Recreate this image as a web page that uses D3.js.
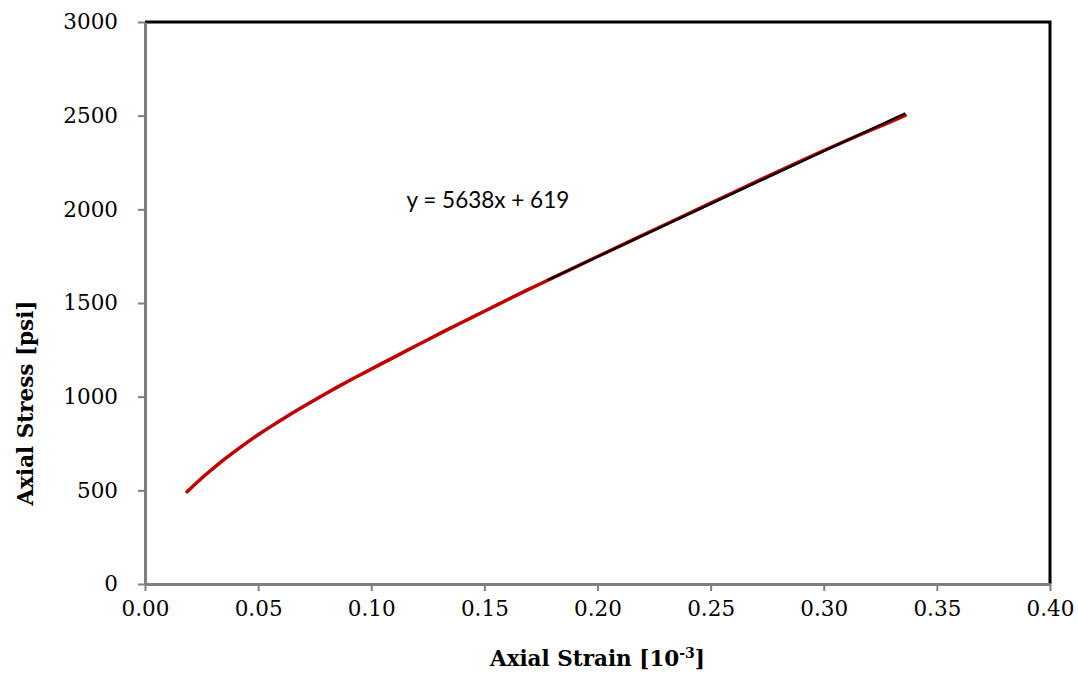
<!DOCTYPE html>
<html>
<head>
<meta charset="utf-8">
<script src="https://cdn.jsdelivr.net/npm/d3@7"></script>
<style>
  body { margin: 0; background: #fff; }
  .tick text { font-family: "DejaVu Serif", serif; font-size: 21.5px; fill: #000; }
  .axis-title { font-family: "DejaVu Serif", serif; font-size: 21.5px; font-weight: bold; }
  .eq { font-family: Lato, "Open Sans", sans-serif; font-size: 22.5px; }
</style>
</head>
<body>
<svg id="chart"></svg>
<script>
// measured curve: axial strain [10^-3] vs axial stress [psi]
var strain = [0.0186, 0.022, 0.026, 0.030, 0.035, 0.040, 0.045, 0.050, 0.055, 0.060,
    0.065, 0.070, 0.075, 0.080, 0.085, 0.090, 0.095, 0.100, 0.105, 0.110,
    0.115, 0.120, 0.125, 0.130, 0.135, 0.140, 0.145, 0.150, 0.155, 0.160,
    0.165, 0.170, 0.175, 0.180, 0.190, 0.200, 0.210, 0.220, 0.230, 0.240,
    0.250, 0.260, 0.270, 0.280, 0.290, 0.300, 0.310, 0.320, 0.330, 0.336];
var stress = [492, 531, 575, 616, 665, 711, 755, 797, 836, 874,
    911, 947, 982, 1017, 1051, 1084, 1116, 1147, 1179, 1210,
    1242, 1273, 1304, 1335, 1366, 1396, 1426, 1456, 1486, 1516,
    1546, 1575, 1604, 1633, 1690, 1748, 1805, 1862, 1919, 1976,
    2033, 2090, 2147, 2203, 2259, 2314, 2367, 2419, 2470, 2501];

// linear trendline shown on the chart
var trendSlope = 5638;
var trendIntercept = 619;
var trendStrain = [0.178, 0.336];
var trendLabel = "y = 5638x + 619";

var xTicks = [0, 0.05, 0.10, 0.15, 0.20, 0.25, 0.30, 0.35, 0.40];
var yTicks = [0, 500, 1000, 1500, 2000, 2500, 3000];

var wtot = 1078, htot = 673;
var margin = { top: 22, right: 28, bottom: 89, left: 145 };

var svg = d3.select("#chart")
    .attr("width", wtot)
    .attr("height", htot);

var x = d3.scaleLinear()
    .domain([0, 0.4])
    .range([margin.left, wtot - margin.right]);

var y = d3.scaleLinear()
    .domain([0, 3000])
    .range([htot - margin.bottom, margin.top]);

// plot area border (top and right black)
svg.append("path")
    .attr("d", `M${x(0)},${y(3000)}H${x(0.4)}V${y(0)}`)
    .attr("fill", "none")
    .attr("stroke", "#000")
    .attr("stroke-width", 3);

var xAxis = d3.axisBottom(x)
    .tickValues(xTicks)
    .tickSize(7)
    .tickSizeOuter(0)
    .tickPadding(10)
    .tickFormat(d3.format(".2f"));

var yAxis = d3.axisLeft(y)
    .tickValues(yTicks)
    .tickSize(7)
    .tickSizeOuter(0)
    .tickPadding(20)
    .tickFormat(d3.format("d"));

var gx = svg.append("g")
    .attr("transform", `translate(0,${y(0)})`)
    .call(xAxis);

var gy = svg.append("g")
    .attr("transform", `translate(${x(0)},0)`)
    .call(yAxis);

[gx, gy].forEach(g => {
    g.select(".domain").attr("stroke", "#7f7f7f").attr("stroke-width", 3);
    g.selectAll(".tick line").attr("stroke", "#7f7f7f").attr("stroke-width", 2);
});

// data curve
var pts = strain.map((s, i) => [s, stress[i]]);
var line = d3.line()
    .x(d => x(d[0]))
    .y(d => y(d[1]));

svg.append("path")
    .datum(pts)
    .attr("d", line)
    .attr("fill", "none")
    .attr("stroke", "#c00000")
    .attr("stroke-width", 3.5)
    .attr("stroke-linecap", "round")
    .attr("stroke-linejoin", "round");

// trendline
svg.append("path")
    .datum(trendStrain.map(s => [s, trendSlope * s + trendIntercept]))
    .attr("d", line)
    .attr("fill", "none")
    .attr("stroke", "#000")
    .attr("stroke-width", 2.2);

svg.append("text")
    .attr("class", "eq")
    .attr("x", 406.5)
    .attr("y", 208)
    .text(trendLabel);

// axis titles
var xt = svg.append("text")
    .attr("class", "axis-title")
    .attr("x", (x(0) + x(0.4)) / 2)
    .attr("y", 666)
    .attr("text-anchor", "middle");
xt.append("tspan").text("Axial Strain [10");
xt.append("tspan").attr("font-size", "14px").attr("dy", -8).text("-3");
xt.append("tspan").attr("dy", 8).text("]");

svg.append("text")
    .attr("class", "axis-title")
    .attr("transform", `translate(33,403) rotate(-90)`)
    .attr("text-anchor", "middle")
    .text("Axial Stress [psi]");
</script>
</body>
</html>
